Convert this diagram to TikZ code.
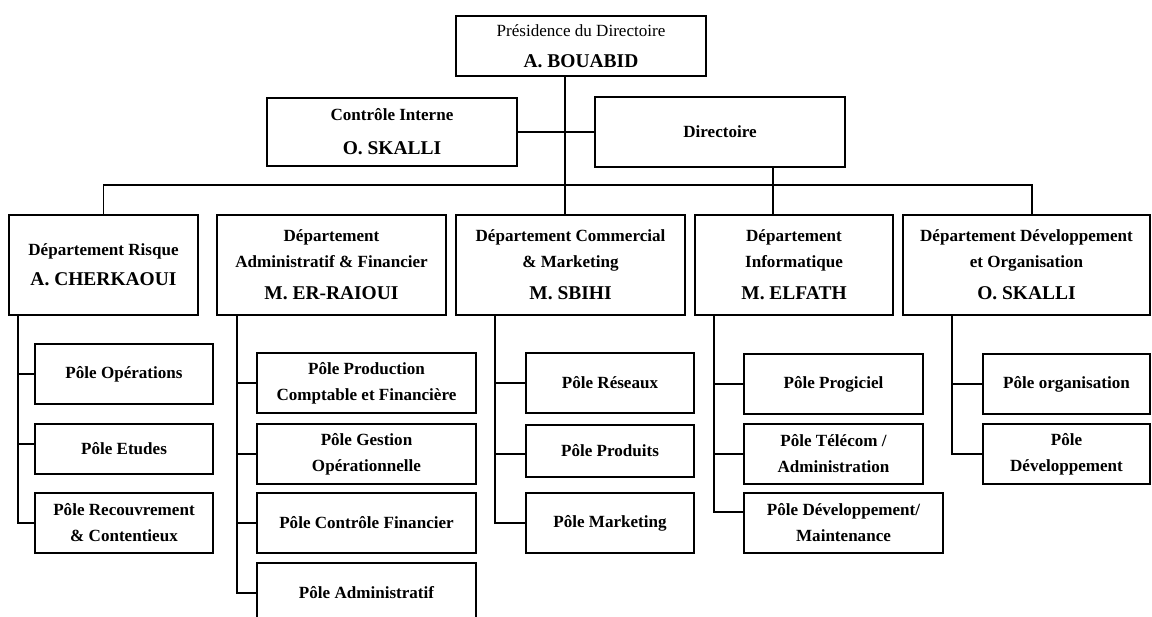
\documentclass[tikz,border=0pt]{standalone}
\usepackage{fontspec}
\setmainfont{Liberation Serif}
\newcommand{\nm}[1]{{\fontsize{14.6}{19.5}\selectfont #1}}
\newcommand{\bx}[6]{\node[box, minimum width={(#4-#2)*0.75pt}, minimum height={(#5-#3)*0.75pt}] (#1) at ({(#2+#4)/2},{(#3+#5)/2}) {#6};}
\tikzset{
  box/.style={draw, line width=1.15pt, inner sep=0pt, align=center,
    font=\fontsize{12.8}{19.5}\selectfont\bfseries},
  link/.style={line width=1.15pt}
}
\begin{document}
\begin{tikzpicture}[x=0.75pt,y=-0.75pt]
\clip (0,0) rectangle (1152,617);
\fill[white] (0,0) rectangle (1152,617);
% top level
\bx{pres}{456}{16}{706}{76}{\mdseries Présidence du Directoire\\[3.75pt]\nm{A. BOUABID}}
\bx{ctrl}{267}{98}{517}{166}{Contrôle Interne\\[6pt]\nm{O. SKALLI}}
\bx{dir}{595}{97}{845}{167}{Directoire}
% departments
\bx{risque}{9}{215}{198}{315}{Département Risque\\[3pt]\nm{A. CHERKAOUI}}
\bx{admin}{217}{215}{446}{315}{Département\\Administratif \& Financier\\[4.5pt]\nm{M. ER-RAIOUI}}
\bx{comm}{456}{215}{685}{315}{Département Commercial\\\& Marketing\\[4.5pt]\nm{M. SBIHI}}
\bx{info}{695}{215}{893}{315}{Département\\Informatique\\[4.5pt]\nm{M. ELFATH}}
\bx{dev}{903}{215}{1150}{315}{Département Développement\\et Organisation\\[4.5pt]\nm{O. SKALLI}}
% poles risque
\bx{r1}{35}{344}{213}{404}{Pôle Opérations}
\bx{r2}{35}{424}{213}{474}{Pôle Etudes}
\bx{r3}{35}{493}{213}{553}{Pôle Recouvrement\\\& Contentieux}
% poles admin
\bx{a1}{257}{353}{476}{413}{Pôle Production\\Comptable et Financière}
\bx{a2}{257}{424}{476}{484}{Pôle Gestion\\Opérationnelle}
\bx{a3}{257}{493}{476}{553}{Pôle Contrôle Financier}
\bx{a4}{257}{563}{476}{623}{Pôle Administratif}
% poles commercial
\bx{c1}{526}{353}{694}{413}{Pôle Réseaux}
\bx{c2}{526}{425}{694}{477}{Pôle Produits}
\bx{c3}{526}{493}{694}{553}{Pôle Marketing}
% poles informatique
\bx{i1}{744}{354}{923}{414}{Pôle Progiciel}
\bx{i2}{744}{424}{923}{484}{Pôle Télécom /\\Administration}
\bx{i3}{744}{493}{943}{553}{Pôle Développement/\\Maintenance}
% poles developpement
\bx{d1}{983}{354}{1150}{414}{Pôle organisation}
\bx{d2}{983}{424}{1150}{484}{Pôle\\Développement}
% connectors top
\coordinate (bus) at (0,185);
\path (pres.south west) ++(110,0) coordinate (p0);
\draw[link] (p0) -- (p0 |- comm.north);
\draw[link] (ctrl.east) -- (ctrl.east -| dir.west);
\path (dir.south west) ++(179,0) coordinate (d0);
\draw[link] (d0) -- (d0 |- info.north);
\path (dev.north west) ++(130,0) coordinate (dd);
\draw[link] (risque.north) -- (risque.north |- bus) -- (dd |- bus) -- (dd);
% risque spine
\path (risque.south west) ++(10,0) coordinate (rs);
\draw[link] (rs) |- (r3.west);
\draw[link] (rs |- r1.west) -- (r1.west);
\path (r2.west) ++(0,-5) coordinate (r2c);
\draw[link] (rs |- r2c) -- (r2c);
% admin spine
\path (admin.south west) ++(21,0) coordinate (as);
\draw[link] (as) |- (a4.west);
\draw[link] (as |- a1.west) -- (a1.west);
\draw[link] (as |- a2.west) -- (a2.west);
\draw[link] (as |- a3.west) -- (a3.west);
% commercial spine
\path (comm.south west) ++(40,0) coordinate (cs);
\draw[link] (cs) |- (c3.west);
\draw[link] (cs |- c1.west) -- (c1.west);
\path (c2.west) ++(0,3) coordinate (c2c);
\draw[link] (cs |- c2c) -- (c2c);
% informatique spine
\path (info.south west) ++(20,0) coordinate (is);
\path (i3.west) ++(0,-11) coordinate (i3c);
\draw[link] (is) |- (i3c);
\draw[link] (is |- i1.west) -- (i1.west);
\draw[link] (is |- i2.west) -- (i2.west);
% developpement spine
\path (dev.south west) ++(50,0) coordinate (ds);
\draw[link] (ds) |- (d2.west);
\draw[link] (ds |- d1.west) -- (d1.west);
\end{tikzpicture}
\end{document}
